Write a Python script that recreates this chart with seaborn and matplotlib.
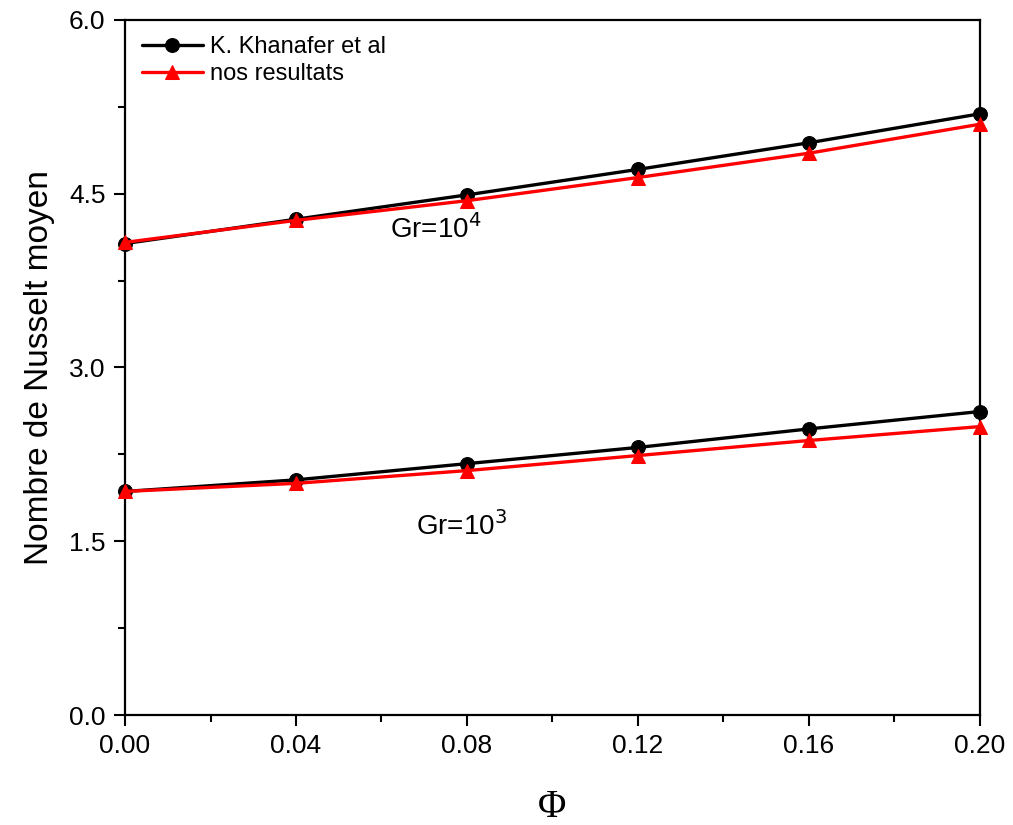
import matplotlib
matplotlib.use("Agg")
import matplotlib.pyplot as plt
import seaborn as sns
import pandas as pd
from matplotlib.ticker import MultipleLocator, FormatStrFormatter

phi = [0.00, 0.04, 0.08, 0.12, 0.16, 0.20]
khan_gr4 = [4.07, 4.28, 4.49, 4.71, 4.94, 5.19]
nos_gr4 = [4.08, 4.27, 4.44, 4.64, 4.85, 5.10]
khan_gr3 = [1.93, 2.03, 2.17, 2.31, 2.47, 2.62]
nos_gr3 = [1.93, 2.00, 2.11, 2.24, 2.37, 2.49]

series_names = ["K. Khanafer et al", "nos resultats"]

sns.set_theme(style="ticks")
plt.rcParams['font.family'] = ['Liberation Sans', 'DejaVu Sans']
plt.rcParams['text.color'] = 'black'
plt.rcParams['axes.labelcolor'] = 'black'
plt.rcParams['xtick.color'] = 'black'
plt.rcParams['ytick.color'] = 'black'

fig = plt.figure(figsize=(10.13, 8.25), dpi=100)
ax = fig.add_axes([0.1234, 0.1333, 0.9674 - 0.1234, 0.9758 - 0.1333])

rows = []
for gr, k, n in [("4", khan_gr4, nos_gr4), ("3", khan_gr3, nos_gr3)]:
    for x, v in zip(phi, k):
        rows.append({"phi": x, "Nu": v, "src": series_names[0], "gr": gr})
    for x, v in zip(phi, n):
        rows.append({"phi": x, "Nu": v, "src": series_names[1], "gr": gr})
df = pd.DataFrame(rows)

styles = {series_names[0]: dict(color="black", marker="o"),
          series_names[1]: dict(color="red", marker="^")}

for gr in ["4", "3"]:
    for name in series_names:
        sub = df[(df.gr == gr) & (df.src == name)]
        sns.lineplot(data=sub, x="phi", y="Nu", ax=ax, color=styles[name]["color"],
                     marker=styles[name]["marker"], markersize=10, linewidth=2.4,
                     markeredgecolor=styles[name]["color"],
                     label=name if gr == "4" else None, clip_on=False, zorder=3)

ax.set_xlim(0, 0.20)
ax.set_ylim(0, 6.0)
ax.xaxis.set_major_locator(MultipleLocator(0.04))
ax.xaxis.set_minor_locator(MultipleLocator(0.02))
ax.yaxis.set_major_locator(MultipleLocator(1.5))
ax.yaxis.set_minor_locator(MultipleLocator(0.75))
ax.xaxis.set_major_formatter(FormatStrFormatter("%.2f"))
ax.yaxis.set_major_formatter(FormatStrFormatter("%.1f"))
ax.tick_params(axis="both", which="major", direction="out", length=8, width=1.5,
               labelsize=19, pad=6, colors="black")
ax.tick_params(axis="both", which="minor", direction="out", length=5, width=1.5)
for s in ax.spines.values():
    s.set_linewidth(1.6)
    s.set_color("black")

ax.set_xlabel("Φ", family=["Liberation Serif", "DejaVu Serif"], fontsize=28, labelpad=22)
ax.set_ylabel("Nombre de Nusselt moyen", fontsize=24, labelpad=10)

ax.text(0.062, 4.12, r"Gr=10$^{4}$", fontsize=20)
ax.text(0.068, 1.55, r"Gr=10$^{3}$", fontsize=20)

leg = ax.legend(loc="upper left", frameon=False, fontsize=17, handlelength=2.6,
                borderaxespad=0.3, labelspacing=0.2, handletextpad=0.3,
                bbox_to_anchor=(0.0, 1.0))

fig.savefig("out.png", dpi=100, facecolor="white")
